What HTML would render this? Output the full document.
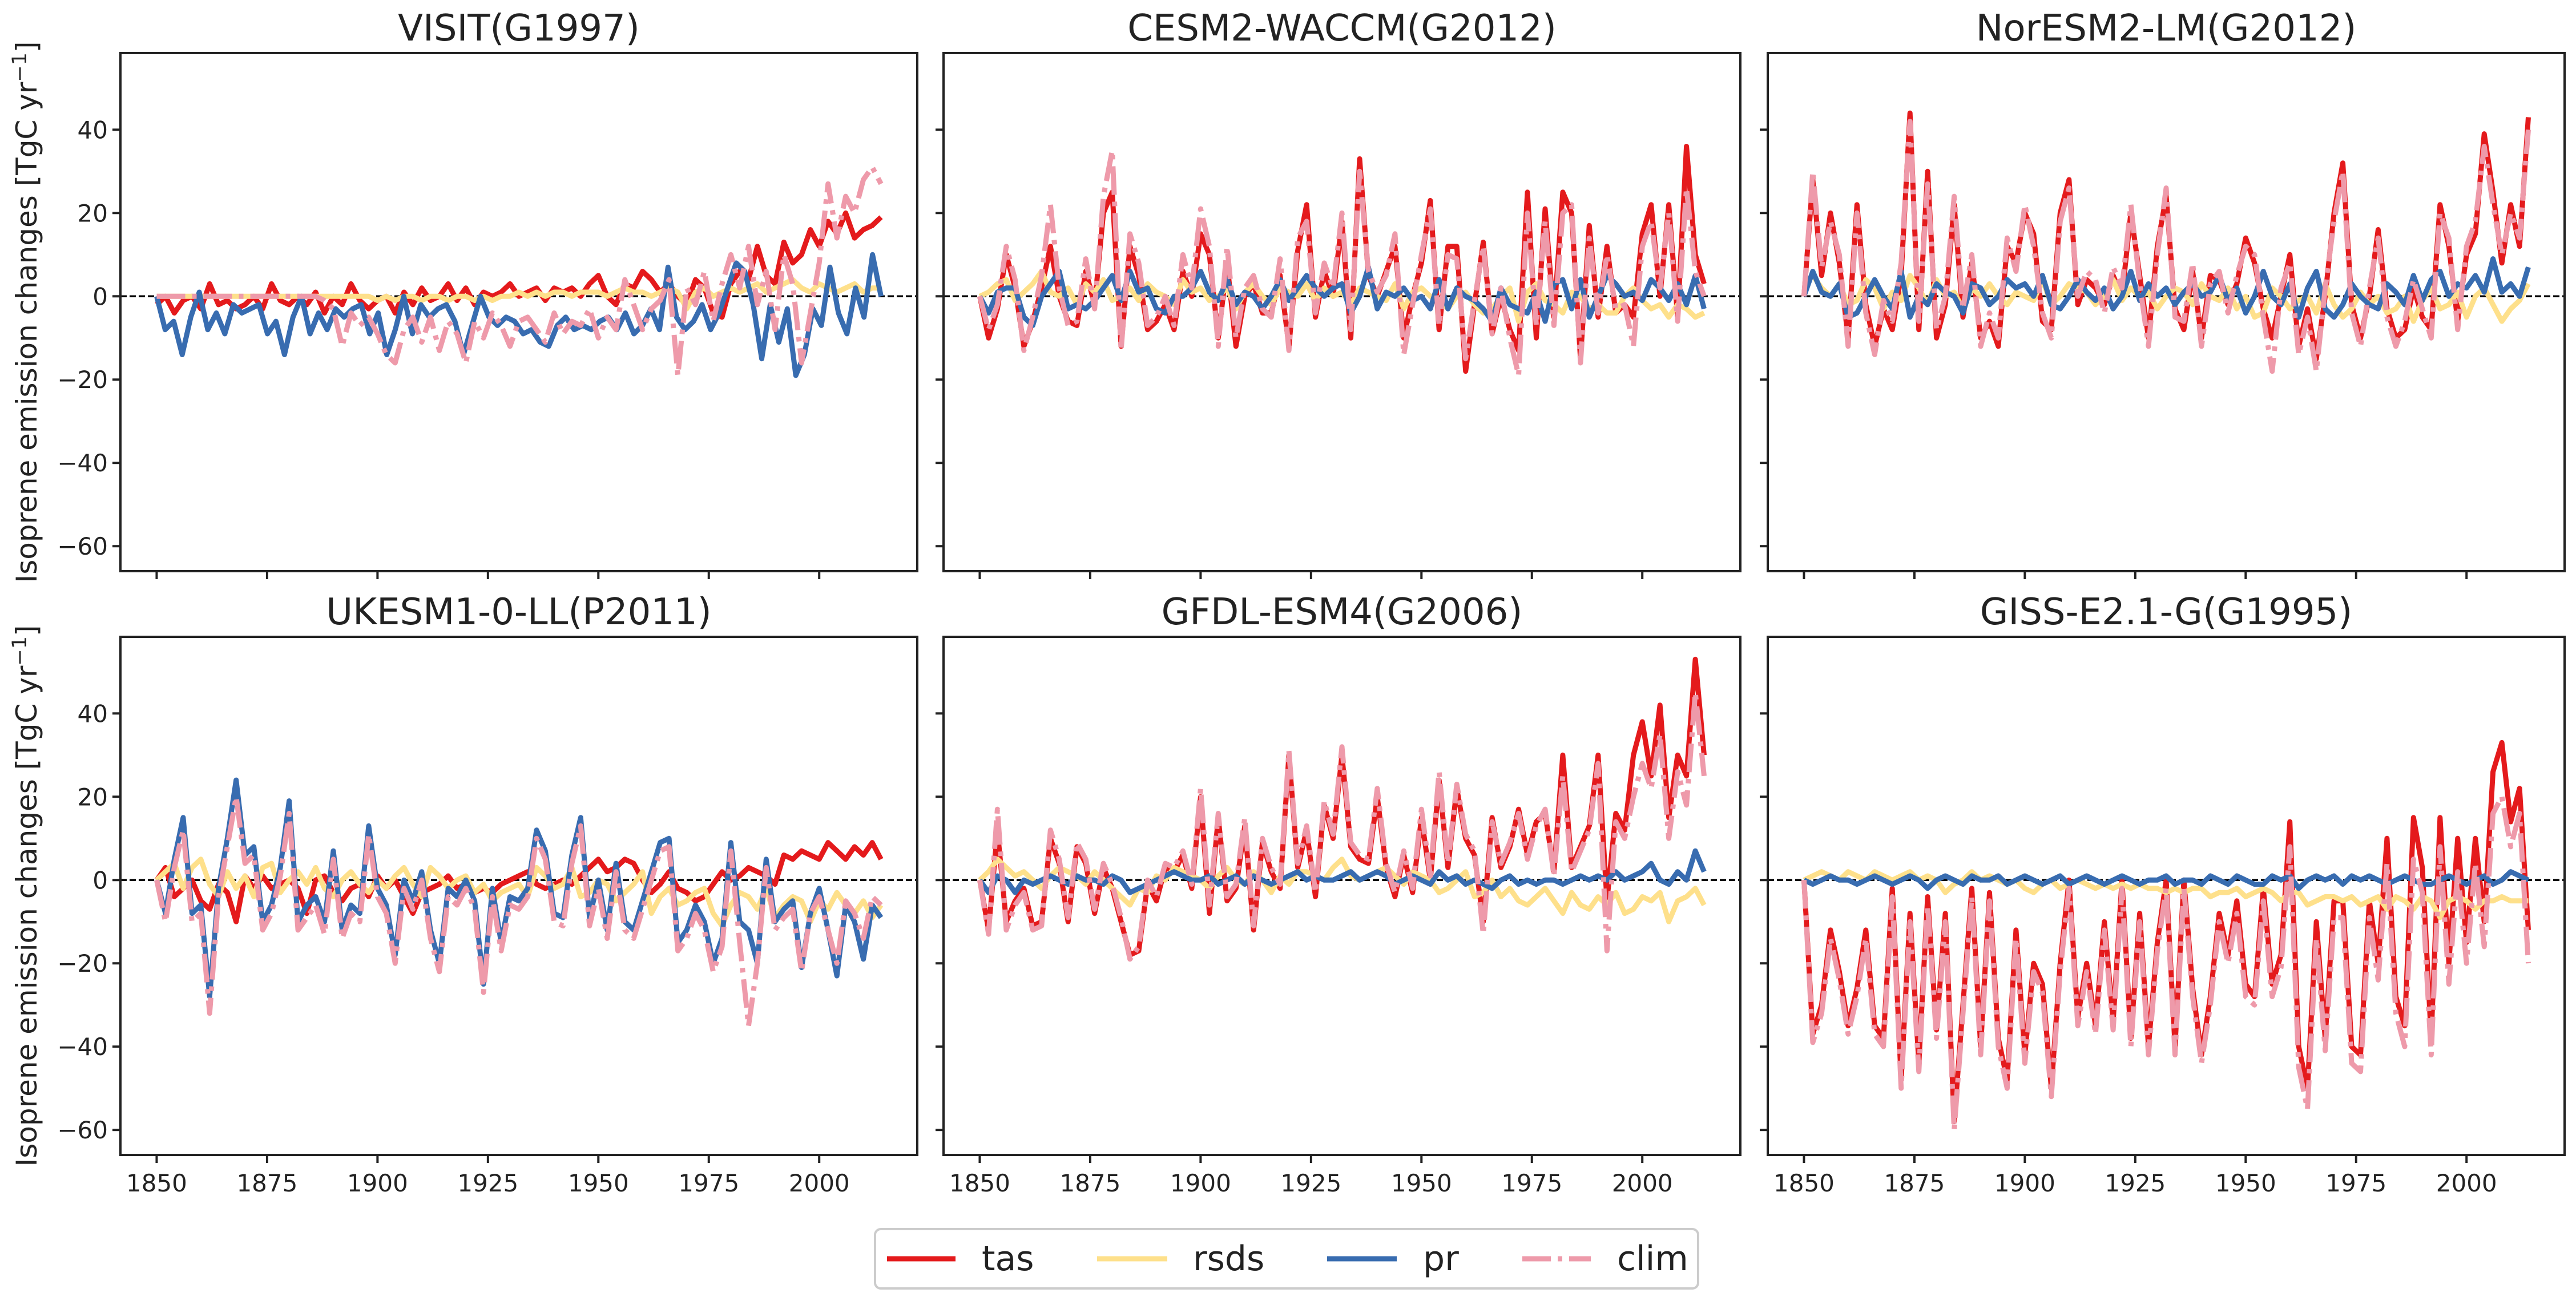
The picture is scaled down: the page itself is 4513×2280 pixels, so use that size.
<!DOCTYPE html>
<html><head><meta charset="utf-8">
<style>
html,body{margin:0;padding:0;background:#fff;}
svg{display:block;font-family:"DejaVu Sans","Liberation Sans",sans-serif;}
</style></head>
<body>
<svg id="chart" width="4513" height="2280" viewBox="0 0 4513 2280" xmlns="http://www.w3.org/2000/svg">
<rect x="0" y="0" width="4513" height="2280" fill="#fff"/>
<g id="panels"></g>
<g id="legend">
  <rect x="1533" y="2154" width="1442" height="104" rx="10" fill="#fff" stroke="#cccccc" stroke-width="4"/>
  <g>
    <line x1="1554" y1="2206" x2="1674" y2="2206" stroke="#e41a1c" stroke-width="9"/>
    <text x="1720" y="2226" font-size="60" fill="#222">tas</text>
  </g>
  <g>
    <line x1="1922" y1="2206" x2="2045" y2="2206" stroke="#fee08b" stroke-width="9"/>
    <text x="2090" y="2226" font-size="60" fill="#222">rsds</text>
  </g>
  <g>
    <line x1="2325" y1="2206" x2="2447" y2="2206" stroke="#386cb0" stroke-width="9"/>
    <text x="2493" y="2226" font-size="60" fill="#222">pr</text>
  </g>
  <g>
    <line x1="2667" y1="2206" x2="2787" y2="2206" stroke="#ee9aaa" stroke-width="9" stroke-dasharray="50,12,8,12"/>
    <text x="2833" y="2226" font-size="60" fill="#222">clim</text>
  </g>
</g>
</svg>
<script>
const modelTitles = ["VISIT(G1997)","CESM2-WACCM(G2012)","NorESM2-LM(G2012)","UKESM1-0-LL(P2011)","GFDL-ESM4(G2006)","GISS-E2.1-G(G1995)"];
const yTickValues = [-60,-40,-20,0,20,40];
const xTickValues = [1850,1875,1900,1925,1950,1975,2000];
const yearStart = 1850, yearEnd = 2014;

const tas1 = [-2,0,-4,-1,0,-3,3,-2,-1,-3,-2,0,-3,3,-1,-2,0,-2,1,-4,0,-2,3,-1,-3,-1,0,-4,1,-2,2,-1,0,3,-1,2,-2,1,0,1,3,0,1,2,-1,2,1,2,0,3,5,0,-2,3,2,6,4,1,3,0,-2,4,2,-4,-5,3,6,4,12,5,3,13,8,10,16,12,18,15,20,14,16,17,19];
const rsds1 = [0,0,0,0,0,0,0,0,0,0,0,0,0,0,0,0,0,0,0,0,0,0,0,0,0,-1,0,-1,0,0,-1,0,0,-1,0,0,-1,0,-1,0,0,1,0,1,0,1,1,0,1,1,1,0,1,2,1,1,0,1,2,1,-3,1,2,0,1,2,1,2,3,1,2,3,4,2,1,3,2,1,2,3,1,2,2];
const pr1 = [0,-8,-6,-14,-5,1,-8,-4,-9,-2,-4,-3,-2,-9,-6,-14,-5,0,-9,-4,-8,-3,-5,-3,-2,-9,-4,-14,-8,0,-9,-2,-5,-3,-2,-6,-14,-7,0,-5,-7,-5,-6,-9,-8,-11,-12,-7,-5,-8,-7,-8,-6,-5,-8,-4,-9,-7,-3,-8,7,-5,-8,-6,-2,-8,-4,2,8,6,-2,-15,-2,-11,-3,-19,-14,-3,-7,7,-4,-9,2,-5,10,0];
const clim1 = [0,0,0,0,0,0,0,0,0,0,0,0,0,0,0,0,0,0,0,-1,-3,-12,-4,-7,-5,-9,-14,-16,-8,-5,-11,-5,-13,-6,-9,-16,-6,-10,-4,-7,-12,-6,-5,-8,-11,-4,-9,-6,-7,-3,-10,-5,-8,4,-2,-8,-3,-1,4,-19,2,-2,6,-6,3,10,2,12,-2,6,-8,10,3,-16,-4,8,27,14,24,20,28,31,27];

const tas2 = [0,-10,-3,10,2,-12,-6,2,12,0,-6,-7,6,-2,20,25,-12,12,5,-8,-6,-2,-8,6,0,15,10,-10,8,-12,0,3,-4,-4,5,-12,11,22,-5,6,0,18,-10,33,5,0,6,12,-10,0,8,23,-8,12,12,-18,-2,13,-9,0,-8,-13,25,-10,21,-5,25,20,-15,17,-5,12,-4,-2,-5,15,22,0,22,-5,36,10,3];
const rsds2 = [0,1,3,4,-1,1,3,6,1,0,2,-2,3,1,4,-1,0,2,-1,3,1,0,-2,4,1,2,-1,0,2,-3,1,3,0,-2,2,1,0,3,-1,2,0,1,-2,2,1,0,-1,3,-3,1,2,0,-1,-3,0,1,-2,-4,-3,0,2,-6,1,3,-1,-2,-4,1,0,-3,-2,-4,-4,0,2,-1,-3,-2,-5,-2,-3,-5,-4];
const pr2 = [0,-4,1,2,2,-5,-7,0,3,6,-3,-2,-3,-1,2,5,-1,6,1,2,-3,-4,0,0,2,6,1,-1,4,-2,1,0,-3,0,4,-1,2,5,2,0,2,3,-4,0,7,-3,1,0,2,-1,0,-3,4,-3,2,0,-1,-3,-6,2,-2,-3,-4,1,-6,3,4,-3,4,-5,0,5,3,0,1,-1,4,2,-1,3,-2,5,-3];
const clim2 = [0,-8,-2,12,4,-13,-5,5,22,2,-7,-6,9,-3,24,35,-13,15,8,-7,-5,0,-7,10,2,21,12,-12,12,-10,2,5,-3,-5,9,-13,14,18,-4,8,2,20,-8,30,6,1,5,15,-14,-2,10,21,-7,10,9,-15,-1,12,-9,2,-10,-19,20,-7,18,-7,20,22,-16,14,-4,10,-3,-2,-12,12,18,2,20,-6,26,6,0];

const tas3 = [0,28,5,20,8,-10,22,-2,-12,-3,-8,5,44,-8,30,-10,-2,22,-5,8,-10,-6,-12,12,8,20,15,-6,-8,20,28,-2,4,2,-2,5,0,20,5,-10,12,24,-3,-8,6,-10,5,4,-2,3,14,8,-3,-10,0,10,-12,-3,-15,0,20,32,-2,-10,0,16,-3,-10,-8,2,-5,-8,22,12,-6,10,15,39,25,8,22,12,43];
const rsds3 = [3,5,2,0,3,-2,-1,4,2,-3,1,-1,5,2,-2,4,0,1,-3,2,0,3,0,-2,1,0,-1,4,-2,0,3,2,1,-2,0,4,-1,2,0,1,-3,0,2,1,-2,3,0,-1,2,-3,0,-5,-4,2,0,-3,-1,0,-4,3,-2,-5,-3,1,-2,0,-4,-3,0,-6,-1,2,-3,-2,1,-5,0,2,-2,-6,-3,-1,3];
const pr3 = [0,6,1,0,3,-5,-4,0,4,0,-3,6,-5,0,-2,3,1,0,-4,3,2,-2,0,4,2,3,0,5,-2,-3,0,4,1,-1,2,-3,0,6,-1,3,0,2,-2,1,3,0,1,5,-1,2,-4,0,6,0,-2,3,-5,2,6,-3,-5,-2,3,0,-2,-3,3,1,-2,5,-1,4,6,0,3,2,5,1,9,1,3,0,7];
const clim3 = [0,30,7,18,10,-12,20,-4,-14,-1,-6,8,42,-6,27,-8,0,24,-3,10,-12,-4,-10,14,6,22,12,-4,-10,18,26,0,6,4,-4,7,2,22,3,-12,10,26,-5,-6,8,-12,3,6,-4,5,12,10,-5,-18,2,8,-14,-5,-18,2,18,30,-4,-12,2,14,-5,-12,-6,4,-3,-10,20,14,-8,12,18,36,22,10,20,14,40];

const tas4 = [0,3,-4,-2,0,-5,-7,-1,-3,-10,1,-2,1,-2,-1,0,-2,-8,0,1,-3,-5,-2,-1,-4,1,-2,0,-4,-8,-3,-2,-1,1,-2,-1,-3,-2,-3,-1,0,1,2,-1,-2,-1,0,-1,1,3,5,2,3,5,4,0,-3,-1,2,-2,-3,-5,-4,-1,2,0,1,3,2,1,-1,6,5,7,6,5,9,7,5,8,6,9,5];
const rsds4 = [0,2,4,-2,3,5,-1,-4,2,-2,1,-4,3,4,-3,0,2,-1,3,-2,-4,0,2,-1,-3,0,-2,1,3,-1,-4,3,1,-2,0,1,-3,-1,-5,-3,-2,-1,-4,3,1,-2,-1,3,-4,-3,0,-1,-5,-3,-1,2,-8,-4,-2,-6,-5,-3,-2,-8,-11,-6,-3,-4,-7,-2,-9,-6,-4,-5,-10,-5,-7,-3,-6,-8,-5,-9,-6];
const pr4 = [0,-8,5,15,-8,-6,-28,-2,10,24,6,8,-10,-6,3,19,-10,-6,-4,-10,7,-12,-6,-8,13,-2,-6,-18,0,-5,2,-12,-20,-2,-4,0,-5,-25,-2,-15,-4,-5,-2,12,7,-8,-9,6,15,-9,0,-12,4,-10,-12,-5,2,9,10,-15,-12,-6,-10,-20,-14,9,-10,-12,-20,5,-10,-7,-5,-21,-8,-2,-12,-23,-6,-10,-19,-6,-9];
const clim4 = [0,-10,3,12,-10,-8,-32,-4,8,20,4,6,-12,-8,1,16,-12,-9,-6,-13,5,-14,-8,-10,11,-4,-8,-20,-2,-7,0,-14,-22,-4,-6,-2,-7,-27,-4,-17,-6,-7,-4,10,5,-10,-11,4,13,-11,-2,-14,2,-12,-14,-7,0,7,8,-17,-14,-8,-12,-22,-16,7,-15,-35,-20,3,-12,-9,-7,-22,-8,-4,-12,-20,-5,-8,-14,-4,-6];

const tas5 = [0,-12,12,-10,-5,-2,-11,-10,10,4,-10,8,4,-8,3,-2,-10,-18,-17,-1,-5,3,2,6,-2,20,-8,15,-5,-2,13,-12,9,2,-2,30,3,12,-4,18,10,30,8,5,4,20,3,-4,6,-3,15,0,24,3,22,10,6,-10,15,3,8,17,6,14,16,2,30,3,8,13,30,-5,16,12,30,38,25,42,15,30,25,53,30];
const rsds5 = [0,2,5,3,1,2,0,-2,1,3,2,1,-1,2,0,-2,-4,-6,-2,-3,1,0,3,2,1,0,-2,1,3,0,-1,2,0,-3,1,-1,2,2,1,0,3,5,1,0,1,2,3,1,-1,2,1,0,-3,-2,0,2,-4,-3,0,-4,-2,-5,-6,-4,-2,-5,-8,-3,-6,-7,-4,-6,-3,-8,-7,-4,-5,-3,-10,-5,-4,-2,-6];
const pr5 = [0,-3,1,0,-3,0,-1,0,1,0,-1,1,0,0,-1,1,0,-3,-2,-1,0,1,2,1,0,0,1,-1,0,1,-1,1,0,-1,0,1,2,0,1,0,0,1,2,0,1,2,1,-1,0,1,0,-1,2,0,1,-1,0,-1,-2,0,1,-1,0,-1,0,0,-1,0,1,0,1,0,2,0,1,2,4,0,-1,2,0,7,2];
const clim5 = [0,-13,17,-12,-6,-3,-12,-11,12,5,-9,9,5,-7,4,-1,-9,-19,-16,0,-4,4,3,7,-1,22,-6,16,-4,-1,15,-11,10,3,-1,31,4,13,-3,19,11,32,9,6,5,22,4,-3,7,-2,17,1,26,4,23,11,7,-13,14,4,9,16,5,13,17,1,25,2,7,12,28,-17,14,10,20,28,22,35,10,26,18,45,25];

const tas6 = [0,-37,-30,-12,-22,-35,-26,-12,-35,-38,-2,-48,-8,-44,-4,-36,-8,-58,-30,-2,-40,-3,-38,-48,-12,-42,-20,-25,-50,-20,0,-33,-20,-35,-10,-34,0,-38,-8,-40,-15,0,-40,0,-26,-42,-28,-8,-18,-5,-25,-28,-2,-25,-18,14,-40,-50,-10,-38,-5,-5,-40,-42,-5,-20,10,-28,-35,15,3,-38,15,-20,10,-15,10,-10,26,33,14,22,-12];
const rsds6 = [0,1,2,1,0,2,1,0,2,1,0,1,2,0,1,0,-3,-1,0,2,0,1,0,-1,0,-2,-3,-1,0,-2,-1,0,-1,-2,-1,-2,-1,-2,-1,-2,-2,-3,-2,-3,-2,-2,-4,-3,-3,-2,-4,-3,-2,-3,-5,-3,-3,-6,-5,-4,-4,-5,-4,-6,-5,-4,-7,-4,-5,-7,-4,-5,-9,-5,-4,-5,-7,-5,-5,-4,-5,-5,-5];
const pr6 = [0,-1,0,1,0,0,-1,0,1,0,-1,0,1,0,-2,0,1,0,-1,1,0,0,1,-1,0,1,0,-1,0,1,-1,0,1,0,-1,0,1,0,-1,0,0,1,-1,0,0,-1,1,0,-1,1,0,-1,-1,1,0,1,-2,0,1,0,1,-1,1,0,1,0,-1,0,1,0,-1,-1,0,1,0,-1,0,1,-1,0,2,1,0];
const clim6 = [0,-39,-32,-14,-24,-37,-28,-14,-37,-40,-4,-50,-10,-46,-6,-38,-10,-60,-32,-4,-42,-5,-40,-50,-14,-44,-22,-27,-52,-22,-2,-35,-22,-37,-12,-36,-2,-40,-10,-42,-17,-2,-42,-2,-28,-44,-30,-10,-20,-8,-28,-30,-5,-28,-21,8,-45,-55,-14,-41,-9,-9,-44,-46,-9,-24,4,-32,-40,5,-3,-42,8,-25,2,-20,4,-16,16,20,8,16,-20];

const tasSeries = [tas1,tas2,tas3,tas4,tas5,tas6];
const rsdsSeries = [rsds1,rsds2,rsds3,rsds4,rsds5,rsds6];
const prSeries = [pr1,pr2,pr3,pr4,pr5,pr6];
const climSeries = [clim1,clim2,clim3,clim4,clim5,clim6];

const NS = "http://www.w3.org/2000/svg";
const colLeft = [211,1653,3097], colWidth = 1396;
const rowTop = [93,1116], rowHeight = 908;
const xMin = 1841.8, xMax = 2022.2, yMin = -66, yMax = 58.4;
const root = document.getElementById('panels');

function mk(tag, attrs, parent){
  const e = document.createElementNS(NS, tag);
  for (const k in attrs) e.setAttribute(k, attrs[k]);
  parent.appendChild(e);
  return e;
}

for (let p = 0; p < 6; p++){
  const r = Math.floor(p/3), c = p%3;
  const L = colLeft[c], T = rowTop[r], W = colWidth, H = rowHeight;
  const xs = v => L + (v - xMin) / (xMax - xMin) * W;
  const ys = v => T + (yMax - v) / (yMax - yMin) * H;
  const g = mk('g', {}, root);
  
  

  const title = mk('text', {x: L + W/2, y: T - 22, 'font-size': 64, 'text-anchor': 'middle', fill: '#222'}, g);
  title.textContent = modelTitles[p];
  
  

  const cp = mk('clipPath', {id: 'clip' + p}, g);
  mk('rect', {x: L, y: T, width: W, height: H}, cp);

  yTickValues.forEach(v => {
    const t = mk('line', {x1: L - 14, x2: L, y1: ys(v), y2: ys(v), stroke: '#222', 'stroke-width': 4}, g);
    
    
    if (c === 0){
      const lb = mk('text', {x: L - 22, y: ys(v) + 15, 'font-size': 42, 'text-anchor': 'end', fill: '#222'}, g);
      lb.textContent = (v < 0 ? '\u2212' + Math.abs(v) : '' + v);
      
      
    }
  });
  xTickValues.forEach(v => {
    const t = mk('line', {x1: xs(v), x2: xs(v), y1: T + H, y2: T + H + 14, stroke: '#222', 'stroke-width': 4}, g);
    
    
    if (r === 1){
      const lb = mk('text', {x: xs(v), y: T + H + 64, 'font-size': 42, 'text-anchor': 'middle', fill: '#222'}, g);
      lb.textContent = '' + v;
      
      
    }
  });

  const plot = mk('g', {'clip-path': 'url(#clip' + p + ')'}, g);
  const zl = mk('line', {x1: L, x2: L + W, y1: ys(0), y2: ys(0), stroke: '#000', 'stroke-width': 3.5, 'stroke-dasharray': '11,5'}, plot);
  
  

  const series = [
    {name: 'tas', data: tasSeries[p], color: '#e41a1c', dash: null},
    {name: 'rsds', data: rsdsSeries[p], color: '#fee08b', dash: null},
    {name: 'pr', data: prSeries[p], color: '#386cb0', dash: null},
    {name: 'clim', data: climSeries[p], color: '#ee9aaa', dash: '50,12,8,12'}
  ];
  series.forEach(s => {
    const n = s.data.length;
    let d = '';
    s.data.forEach((v, i) => {
      const yr = yearStart + i * (yearEnd - yearStart) / (n - 1);
      d += (i ? 'L' : 'M') + xs(yr).toFixed(1) + ',' + ys(v).toFixed(1);
    });
    const attrs = {d: d, fill: 'none', stroke: s.color, 'stroke-width': 9, 'stroke-linejoin': 'round'};
    if (s.dash) attrs['stroke-dasharray'] = s.dash;
    const path = mk('path', attrs, plot);
    
    
  });

  const frame = mk('rect', {x: L, y: T, width: W, height: H, fill: 'none', stroke: '#222', 'stroke-width': 4}, g);
  
  
}

[0,1].forEach(r => {
  const cy = rowTop[r] + rowHeight/2;
  const t = mk('text', {x: 0, y: 0, 'font-size': 50, 'text-anchor': 'middle', fill: '#222', transform: 'translate(64,' + cy + ') rotate(-90)'}, root);
  t.innerHTML = 'Isoprene emission changes [TgC yr<tspan dy="-18" font-size="35">\u22121</tspan><tspan dy="18">]</tspan>';
  
  
});
</script>
</body></html>
